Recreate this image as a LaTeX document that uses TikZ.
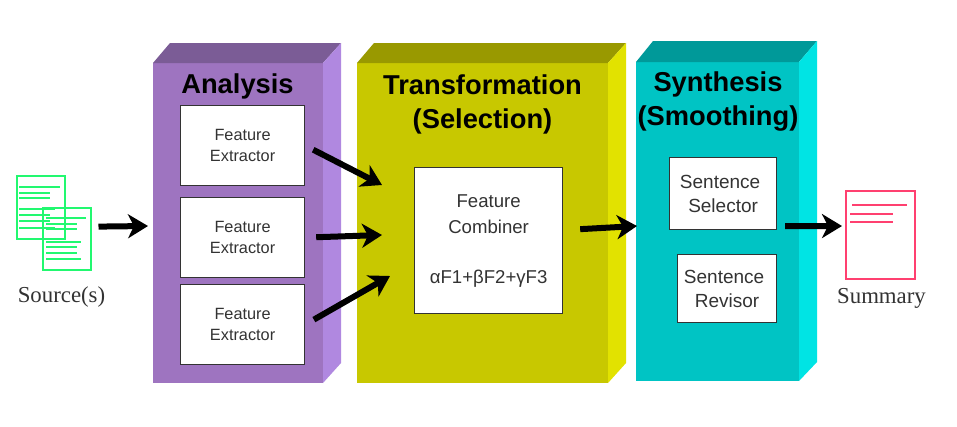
\documentclass[tikz,border=0pt]{standalone}
\usepackage{fontspec}
\setmainfont{Liberation Sans}
\newfontfamily\serifcap{Liberation Serif}
\usetikzlibrary{arrows.meta,positioning}
\definecolor{anafront}{HTML}{9E74C0}
\definecolor{anatop}{HTML}{7B5C96}
\definecolor{anaside}{HTML}{B088E0}
\definecolor{trafront}{HTML}{C8C800}
\definecolor{tratop}{HTML}{999900}
\definecolor{traside}{HTML}{E2E200}
\definecolor{synfront}{HTML}{00C4C4}
\definecolor{syntop}{HTML}{009999}
\definecolor{synside}{HTML}{00E4E4}
\definecolor{srcgreen}{HTML}{22F870}
\definecolor{sumred}{HTML}{FF4070}
\tikzset{
 front/.style={anchor=north west,inner sep=0pt,outer sep=0pt},
 title/.style={align=center,inner sep=0pt,text=black,font=\fontsize{27.3}{34}\selectfont\bfseries},
 unitbox/.style={draw=black!80,fill=white,line width=1.2pt,align=center,inner sep=0pt,anchor=north west,text=black!80},
 extbox/.style={unitbox,minimum width=124pt,minimum height=80pt,font=\fontsize{16.3}{21}\selectfont},
 senbox/.style={unitbox,font=\fontsize{19}{24}\selectfont},
 docbox/.style={draw,fill=none,inner sep=0pt,anchor=north west,line width=1.5pt},
 docline/.style={line width=1.5pt},
 doccap/.style={inner sep=0pt,text=black!80,font=\fontsize{22.8}{26}\serifcap},
 flow/.style={line width=6pt,-{Stealth[length=20pt,width=24pt,inset=6pt]}}
}
\begin{document}
\begin{tikzpicture}[x=1pt,y=-1pt]
\useasboundingbox[fill=white] (0,0) rectangle (957,426);
% analysis block
\node[front,fill=anafront,minimum width=170pt,minimum height=320pt] (ana) at (153,63) {};
\fill[anatop] (ana.north west)--++(17,-20)--++(171,0)--(ana.north east)--cycle;
\fill[anaside] (ana.north east)--++(18,-20)--++(0,320)--(ana.south east)--cycle;
% transformation block
\node[front,fill=trafront,minimum width=251pt,minimum height=320pt] (tra) at (357,63) {};
\fill[tratop] (tra.north west)--++(17,-20)--++(252,0)--(tra.north east)--cycle;
\fill[traside] (tra.north east)--++(18,-20)--++(0,320)--(tra.south east)--cycle;
% synthesis block
\node[front,fill=synfront,minimum width=163pt,minimum height=319pt] (syn) at (636,62) {};
\fill[syntop] (syn.north west)--++(17,-21)--++(164,0)--(syn.north east)--cycle;
\fill[synside] (syn.north east)--++(18,-21)--++(0,321)--(syn.south east)--cycle;
\node[title] (anatitle) at (237.5,86) {Analysis};
\node[title] (tratitle) at (482.5,104) {Transformation\\(Selection)};
\node[title] (syntitle) at (718,101) {Synthesis\\(Smoothing)};
\node[extbox] (ext1) at (180,105) {Feature\\Extractor};
\node[extbox] (ext2) at (180,197) {Feature\\Extractor};
\node[extbox] (ext3) at (180,284) {Feature\\Extractor};
\node[unitbox,minimum width=148pt,minimum height=146pt,font=\fontsize{18.6}{26}\selectfont] (comb) at (414,167)
 {Feature\\Combiner\\[24pt]αF1+βF2+γF3};
\node[senbox,minimum width=107pt,minimum height=72pt] (sel) at (669,157) {Sentence\hspace*{6pt}\\Selector};
\node[senbox,minimum width=99pt,minimum height=68pt] (rev) at (677,254) {Sentence\hspace*{6pt}\\Revisor};
% source documents
\node[docbox,draw=srcgreen,minimum width=48pt,minimum height=63pt] (doc1) at (16,175) {};
\node[docbox,draw=srcgreen,minimum width=48pt,minimum height=62pt] (doc2) at (42,207) {};
\foreach \y/\xe in {187/60,193/50,198/50,209/55,215/50,221/50,228/55}
 \draw[srcgreen,docline] (19,\y)--(\xe,\y);
\foreach \y/\xe in {218/86,224/77,229/77,242/81,247/77,253/77,259/81}
 \draw[srcgreen,docline] (46,\y)--(\xe,\y);
\node[doccap] (srccap) at (61.5,297) {Source(s)};
% summary document
\node[docbox,draw=sumred,minimum width=69pt,minimum height=88pt] (sum) at (845,190) {};
\foreach \y/\xs/\xe in {205/852/907,214/850/893,222/850/893}
 \draw[sumred,docline] (\xs,\y)--(\xe,\y);
\node[doccap] (sumcap) at (881.5,298) {Summary};
% arrow ends
\coordinate (anain) at (148,226);
\coordinate (combin1) at (382,185);
\coordinate (combin2) at (382,235);
\coordinate (combin3) at (390,276);
\coordinate (synin) at (637,226);
\coordinate (sumin) at (842,226);
\draw[flow,shorten <=7pt] (doc2.26.6)--(anain);
\draw[flow,shorten <=9pt] (ext1.east)--(combin1);
\draw[flow,shorten <=11pt] (ext2.east)--(combin2);
\draw[flow,shorten <=10pt] (ext3.east)--(combin3);
\draw[flow,shorten <=17pt] (comb.8)--(synin);
\draw[flow,shorten <=8pt] (sel.-31.7)--(sumin);
\end{tikzpicture}
\end{document}
